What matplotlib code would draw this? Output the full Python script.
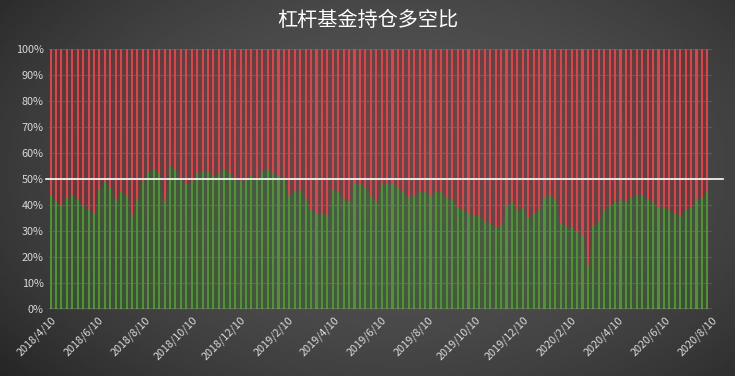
import matplotlib
matplotlib.use("Agg")
import matplotlib.pyplot as plt
import numpy as np
import pandas as pd

plt.rcParams['font.family'] = ['Noto Sans CJK SC', 'DejaVu Sans']

title = "杠杆基金持仓多空比"

# weekly long share (%) of leveraged-fund positions
long_pct = [
    44, 41, 40, 43, 44, 42, 40, 38, 37, 46, 49, 47, 42, 45, 44, 36, 42, 49, 53, 54, 52, 41, 55, 54,
    50, 48, 49, 52, 53, 53, 51, 52, 54, 52, 50, 49, 50, 51, 50, 53, 54, 52, 51, 50, 44, 45, 46,
    42, 38, 37, 37, 36, 46, 45, 42, 41, 48, 48, 47, 44, 41, 48, 48, 48, 47, 45, 43, 44, 45, 45, 44, 45,
    45, 43, 42, 39, 38, 37, 36, 36, 34, 33, 31, 32, 40, 41, 38, 39, 35, 37, 38, 43, 44, 42, 33, 32,
    31, 30, 28, 17, 32, 34, 38, 40, 41, 42, 41, 43, 44, 44, 42, 41, 39, 39, 38, 37, 36, 38, 39, 42, 43, 45,
]
dates = pd.date_range("2018-04-10", periods=len(long_pct), freq="7D")
short_pct = [100 - v for v in long_pct]

tick_dates = pd.to_datetime([
    "2018-04-10", "2018-06-10", "2018-08-10", "2018-10-10", "2018-12-10",
    "2019-02-10", "2019-04-10", "2019-06-10", "2019-08-10", "2019-10-10",
    "2019-12-10", "2020-02-10", "2020-04-10", "2020-06-10", "2020-08-10",
])
tick_labels = [f"{d.year}/{d.month}/{d.day}" for d in tick_dates]

fig = plt.figure(figsize=(7.35, 3.76), dpi=100)

# dark radial background
bg = fig.add_axes([0, 0, 1, 1], zorder=-10)
yy, xx = np.mgrid[0:1:200j, 0:1:400j]
r2 = ((xx - 0.55) / 0.75) ** 2 + ((yy - 0.45) / 0.9) ** 2
bg.imshow(0.33 - 0.2 * r2, cmap="gray", vmin=0, vmax=1, aspect="auto", extent=[0, 1, 0, 1])
bg.axis("off")

ax = fig.add_axes([0.0667, 0.178, 0.9020, 0.692])
ax.set_facecolor("none")

# shaded area behind the columns
ax.fill_between(dates, 0, long_pct, color="#3f6a2c", alpha=0.4, lw=0, zorder=1)
ax.fill_between(dates, long_pct, 100, color="#8a3437", alpha=0.4, lw=0, zorder=1)

ax.bar(dates, long_pct, width=2.7, color="#52903a", lw=0, zorder=3)
ax.bar(dates, short_pct, bottom=long_pct, width=2.7, color="#d6474c", lw=0, zorder=3)

ax.set_ylim(0, 100)
ax.set_xlim(dates[0] - pd.Timedelta(days=2), pd.Timestamp("2020-08-10"))
ax.set_yticks(np.arange(0, 101, 10))
ax.set_yticklabels([f"{v}%" for v in range(0, 101, 10)])
ax.grid(axis="y", color="white", alpha=0.12, lw=0.8, zorder=2)
ax.set_xticks(tick_dates)
ax.set_xticklabels(tick_labels, rotation=45, ha="right", rotation_mode="anchor")
ax.tick_params(colors="#d9d9d9", labelsize=7.8, length=0, pad=4)
for s in ax.spines.values():
    s.set_visible(False)
ax.axhline(0, color="#bfbfbf", lw=1, zorder=4)

# 50% reference line
ax.plot([-0.005, 1.017], [0.5, 0.5], transform=ax.transAxes, color="white", lw=1.2,
        clip_on=False, zorder=5)

fig.text(0.5, 0.945, title, color="white", fontsize=14.5, ha="center", va="center")

fig.savefig("out.png", dpi=100)
